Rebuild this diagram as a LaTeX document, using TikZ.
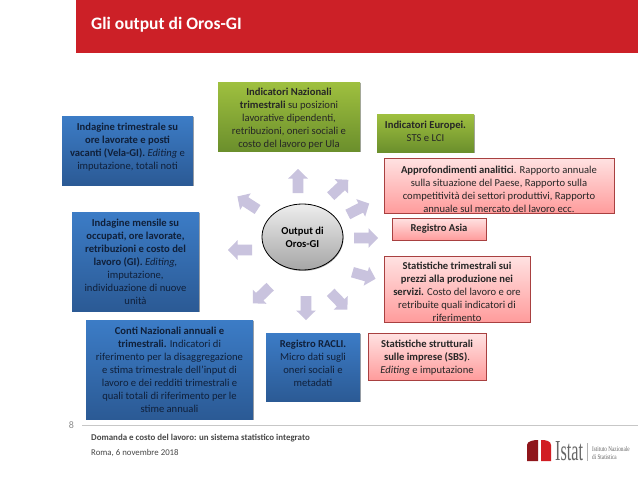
\documentclass[tikz,border=0pt]{standalone}
\usepackage{fontspec}
\setmainfont{Carlito}
\newfontfamily\logofont{Liberation Serif}
\usetikzlibrary{shapes.geometric,shadows}
\definecolor{hdr}{HTML}{CC2027}
\definecolor{txt}{HTML}{10203A}
\definecolor{arr}{HTML}{C9C3DE}
\tikzset{
  x=1pt,y=-1pt,
  box/.style={inner sep=0pt,
    drop shadow={shadow xshift=0.6pt,shadow yshift=-1.4pt,opacity=.35,fill=black}},
  boxtext/.style={align=center,inner sep=0pt,font=\fontsize{10.6}{13}\selectfont},
  bluetext/.style={boxtext,text=txt},
  darktext/.style={boxtext,text=black!85},
  bluebox/.style={box,top color=blueT,bottom color=blueB},
  greenbox/.style={box,top color=greenT,bottom color=greenB},
  pinkbox/.style={box,top color=pinkT,bottom color=pinkB,draw=pinkD,line width=.8pt},
  blockarrow/.pic={\fill[arr] (-12,-5.3) -- (2.5,-5.3) -- (2.5,-9.8) -- (12,0) -- (2.5,9.8) -- (2.5,5.3) -- (-12,5.3) -- cycle;},
}
\definecolor{blueT}{HTML}{3C7CC6}
\definecolor{blueB}{HTML}{2B5A95}
\definecolor{greenT}{HTML}{9FC03F}
\definecolor{greenB}{HTML}{6B8F2C}
\definecolor{pinkT}{HTML}{FFE2E2}
\definecolor{pinkB}{HTML}{FF9C9C}
\definecolor{pinkD}{HTML}{A84040}
\begin{document}
\begin{tikzpicture}
\useasboundingbox (0,0) rectangle (638,479);
\fill[white] (0,0) rectangle (638,479);
% header
\fill[hdr] (76,0) rectangle (638,53);
\node[anchor=base west,inner sep=0pt,text=white,font=\fontsize{17.5}{20}\selectfont\bfseries] (title) at (91,29) {Gli output di Oros-GI};
% blue boxes
\node[bluebox,minimum width=131pt,minimum height=69pt] (b1) at (127.5,150.5) {};
\node[bluetext] (b1t) at (127.5,147) {\textbf{Indagine trimestrale su}\\\textbf{ore lavorate e posti}\\\textbf{vacanti (Vela-GI).} \textit{Editing} e\\imputazione, totali noti};
\node[bluebox,minimum width=127pt,minimum height=99pt] (b2) at (135.5,261.5) {};
\node[bluetext] (b2t) at (135.5,261.5) {\textbf{Indagine mensile su}\\\textbf{occupati, ore lavorate,}\\\textbf{retribuzioni e costo del}\\\textbf{lavoro (GI).} \textit{Editing,}\\imputazione,\\individuazione di nuove\\unità};
\node[bluebox,minimum width=167pt,minimum height=99pt] (b3) at (169.5,369.5) {};
\node[bluetext] (b3t) at (169.5,369.5) {\textbf{Conti Nazionali annuali e}\\\textbf{trimestrali.} Indicatori di\\riferimento per la disaggregazione\\e stima trimestrale dell’input di\\lavoro e dei redditi trimestrali e\\quali totali di riferimento per le\\stime annuali};
\node[bluebox,minimum width=94pt,minimum height=68pt] (b4) at (313,367) {};
\node[bluetext] (b4t) at (313,363) {\textbf{Registro RACLI.}\\Micro dati sugli\\oneri sociali e\\metadati};
% green boxes
\node[greenbox,minimum width=142pt,minimum height=69pt] (g1) at (289,116.5) {};
\node[darktext] (g1t) at (289,118.5) {\textbf{Indicatori Nazionali}\\\textbf{trimestrali} su posizioni\\lavorative dipendenti,\\retribuzioni, oneri sociali e\\costo del lavoro per Ula};
\node[greenbox,minimum width=97pt,minimum height=38pt] (g2) at (425.5,133) {};
\node[darktext] (g2t) at (425.5,131) {\textbf{Indicatori Europei.}\\STS e LCI};
% pink boxes
\node[pinkbox,minimum width=230pt,minimum height=55pt] (p1) at (499,185.5) {};
\node[darktext] (p1t) at (499,189) {\textbf{Approfondimenti analitici}. Rapporto annuale\\sulla situazione del Paese, Rapporto sulla\\competitività dei settori produttivi, Rapporto\\annuale sul mercato del lavoro ecc.};
\node[pinkbox,minimum width=94pt,minimum height=22pt] (p2) at (439,229) {};
\node[darktext] (p2t) at (439,229) {\textbf{Registro Asia}};
\node[pinkbox,minimum width=146pt,minimum height=66pt] (p3) at (457,289) {};
\node[darktext] (p3t) at (457,292) {\textbf{Statistiche trimestrali sui}\\\textbf{prezzi alla produzione nei}\\\textbf{servizi.} Costo del lavoro e ore\\retribuite quali indicatori di\\riferimento};
\node[pinkbox,minimum width=118pt,minimum height=47pt] (p4) at (427,356.5) {};
\node[darktext] (p4t) at (427,357.5) {\textbf{Statistiche strutturali}\\\textbf{sulle imprese (SBS)}.\\\textit{Editing} e imputazione};
% centre
\node[ellipse,draw=black,line width=.8pt,top color=black!7,bottom color=black!35,minimum width=81pt,minimum height=66pt,inner sep=0pt,align=center,font=\fontsize{10.6}{13}\selectfont\bfseries,drop shadow={shadow xshift=0.6pt,shadow yshift=-1pt,opacity=.3,fill=black}] (c) at (302.5,237) {Output di\\Oros-GI};
% block arrows
\pic[rotate=90] at (298,181) {blockarrow};
\pic[rotate=43] at (339.5,188) {blockarrow};
\pic[rotate=27] at (358.5,209) {blockarrow};
\pic at (366,238) {blockarrow};
\pic[rotate=-16] at (364,275.5) {blockarrow};
\pic[rotate=-46] at (339,301) {blockarrow};
\pic[rotate=-90] at (306,308) {blockarrow};
\pic[rotate=-136] at (261.5,295) {blockarrow};
\pic[rotate=180] at (240,250) {blockarrow};
\pic[rotate=147] at (247.5,203) {blockarrow};
% footer
\draw[black!22,line width=.8pt] (82,425) -- (638,425);
\node[text=black!45,font=\fontsize{10}{12}\selectfont,inner sep=0pt] (pg) at (71.5,425) {8};
\node[anchor=base west,inner sep=0pt,text=black!72,font=\fontsize{8.9}{10}\selectfont\bfseries] (f1) at (91,440) {Domanda e costo del lavoro: un sistema statistico integrato};
\node[anchor=base west,inner sep=0pt,text=black!72,font=\fontsize{8.8}{10}\selectfont] (f2) at (91,455) {Roma, 6 novembre 2018};
% logo
\fill[hdr!70!black] (527,461) -- (527,445) .. controls (527,441) and (534,440) .. (538,440) -- (538,461) -- cycle;
\fill[hdr!90!red] (541,440) .. controls (546,440) and (551,441) .. (551,445) -- (551,461) -- (541,461) -- cycle;
\node[anchor=base west,inner sep=0pt,text=black!60,font=\fontsize{29}{30}\selectfont\logofont,xscale=.56] (ist) at (555,460.5) {Istat};
\draw[black!30,line width=.5pt] (587,443) -- (587,461);
\node[anchor=west,inner sep=0pt,align=left,text=black!60,font=\fontsize{7}{8}\selectfont\logofont,xscale=.75] (lt) at (592,453) {Istituto Nazionale\\di Statistica};
\end{tikzpicture}
\end{document}
